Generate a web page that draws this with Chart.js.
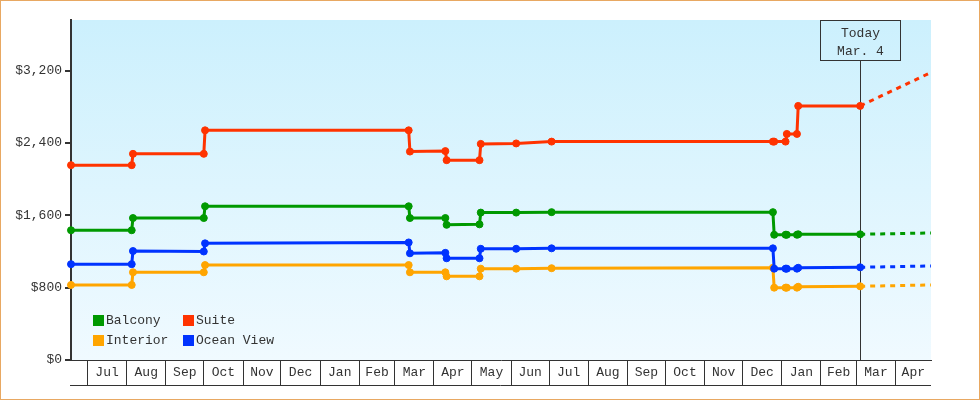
<!DOCTYPE html>
<html><head><meta charset="utf-8">
<script src="https://cdn.jsdelivr.net/npm/chart.js@4.4.1/dist/chart.umd.min.js"></script>
<style>
html,body{margin:0;padding:0;background:#fff;}
#wrap{position:relative;width:980px;height:400px;}
#frame{position:absolute;left:0;top:0;width:980px;height:400px;box-sizing:border-box;border:1px solid #e8a862;pointer-events:none;}
canvas{position:absolute;left:0;top:0;}
</style></head><body>
<div id="wrap"><canvas id="c" width="980" height="400"></canvas><div id="frame"></div></div>
<script>
// ---- data ----
const dates = ['2017-06-18','2017-08-05','2017-08-06','2017-10-01','2017-10-02',
  '2018-03-12','2018-03-13','2018-04-10','2018-04-11','2018-05-07','2018-05-08',
  '2018-06-05','2018-07-03','2018-12-25','2018-12-26','2019-01-04','2019-01-05',
  '2019-01-13','2019-01-14','2019-03-04'];
const balcony   = [1435,1435,1570,1570,1700,1700,1570,1570,1495,1500,1630,1630,1635,1635,1385,1385,1385,1385,1390,1390];
const suite     = [2155,2155,2280,2280,2540,2540,2305,2310,2210,2210,2390,2395,2415,2415,2415,2415,2500,2500,2810,2810];
const interior  = [830,830,970,970,1050,1050,970,970,925,925,1010,1010,1015,1020,800,800,800,800,810,815];
const oceanView = [1060,1060,1205,1200,1290,1300,1180,1185,1125,1125,1230,1230,1235,1235,1010,1010,1010,1010,1020,1025];

const projDates = ['2019-03-04','2019-04-29'];
const balconyProj   = [1390,1405];
const suiteProj     = [2810,3180];
const interiorProj  = [815,830];
const oceanViewProj = [1025,1040];

const monthStarts = ['2017-07-01','2017-08-01','2017-09-01','2017-10-01','2017-11-01','2017-12-01',
  '2018-01-01','2018-02-01','2018-03-01','2018-04-01','2018-05-01','2018-06-01','2018-07-01',
  '2018-08-01','2018-09-01','2018-10-01','2018-11-01','2018-12-01','2019-01-01','2019-02-01',
  '2019-03-01','2019-04-01'];
const monthLabels = ['Jul','Aug','Sep','Oct','Nov','Dec','Jan','Feb','Mar','Apr','May','Jun','Jul',
  'Aug','Sep','Oct','Nov','Dec','Jan','Feb','Mar','Apr'];

const yTicks = [0,800,1600,2400,3200];
const yMax = 3760;
const todayDate = '2019-03-04';
const todayText = ['Today','Mar. 4'];

const seriesNames  = ['Balcony','Suite','Interior','Ocean View'];
const seriesColors = ['#009900','#ff3300','#ffa500','#0033ff'];

// ---- helpers ----
const day = s => Date.UTC(+s.slice(0,4), +s.slice(5,7)-1, +s.slice(8,10)) / 864e5;
const FONT = 'Liberation Mono';
const TXT = '#333';
const xMin = day(dates[0]);
const xMax = day(projDates[projDates.length-1]);

const boundaryVals = monthStarts.map(day);
const labelMap = new Map();
const xTickVals = [];
boundaryVals.forEach((b,i) => {
  const next = i + 1 < boundaryVals.length ? boundaryVals[i+1] : xMax;
  const mid = (b + next) / 2;
  xTickVals.push(b, mid);
  labelMap.set(mid, monthLabels[i]);
});
const boundarySet = new Set(boundaryVals);

const allSeries = [balcony, suite, interior, oceanView];
const allProj = [balconyProj, suiteProj, interiorProj, oceanViewProj];
const drawOrder = [1, 3, 2, 0]; // lower = on top

const datasets = [];
allSeries.forEach((arr, k) => {
  datasets.push({
    label: seriesNames[k],
    data: dates.map((s,i) => ({x: day(s), y: arr[i]})),
    borderColor: seriesColors[k], backgroundColor: seriesColors[k],
    borderWidth: 3, pointRadius: 3.5, pointBorderWidth: 1,
    pointBackgroundColor: seriesColors[k], pointBorderColor: seriesColors[k],
    fill: false, tension: 0, clip: false, order: drawOrder[k]
  });
  datasets.push({
    label: seriesNames[k] + ' projection',
    data: projDates.map((s,i) => ({x: day(s), y: allProj[k][i]})),
    borderColor: seriesColors[k], borderWidth: 3, borderDash: [5,5],
    pointRadius: 0, fill: false, tension: 0, clip: false, order: 10
  });
});

const decor = {
  id: 'decor',
  beforeDraw(chart) {
    const {ctx, chartArea: a} = chart;
    const g = ctx.createLinearGradient(0, a.top, 0, a.bottom);
    g.addColorStop(0, '#ccf0fd');
    g.addColorStop(1, '#f0faff');
    ctx.save();
    ctx.fillStyle = g;
    ctx.fillRect(a.left, a.top, a.right - a.left, a.bottom - a.top);
    ctx.restore();
  },
  beforeDatasetsDraw(chart) {
    const {ctx, chartArea: a, scales} = chart;
    ctx.save();
    ctx.strokeStyle = '#333';
    ctx.lineWidth = 1;
    // bottom line of month band
    ctx.beginPath();
    ctx.moveTo(a.left - 1, a.bottom + 25.5);
    ctx.lineTo(a.right, a.bottom + 25.5);
    ctx.stroke();
    // today marker
    const tx = Math.floor(scales.x.getPixelForValue(day(todayDate))) + 0.5;
    ctx.beginPath();
    ctx.moveTo(tx, a.top + 40);
    ctx.lineTo(tx, a.bottom);
    ctx.stroke();
    ctx.strokeRect(tx - 40, a.top + 0.5, 80, 40);
    ctx.fillStyle = TXT;
    ctx.font = '13px "' + FONT + '"';
    ctx.textAlign = 'center';
    ctx.textBaseline = 'alphabetic';
    ctx.fillText(todayText[0], tx, a.top + 17);
    ctx.fillText(todayText[1], tx, a.top + 35);
    ctx.restore();
  },
  afterDatasetsDraw(chart) {
    const {ctx, chartArea: a} = chart;
    const order = [[0,0,0],[1,1,0],[2,0,1],[3,1,1]];
    ctx.save();
    ctx.font = '13px "' + FONT + '"';
    ctx.textBaseline = 'middle';
    ctx.textAlign = 'left';
    order.forEach(([k,col,row]) => {
      const x = a.left + 22 + col * 90;
      const y = a.bottom - 45 + row * 20;
      ctx.fillStyle = seriesColors[k];
      ctx.fillRect(x, y, 11, 11);
      ctx.fillStyle = TXT;
      ctx.fillText(seriesNames[k], x + 13, y + 6);
    });
    ctx.restore();
  }
};

new Chart(document.getElementById('c'), {
  type: 'line',
  data: {datasets},
  plugins: [decor],
  options: {
    responsive: false, animation: false, devicePixelRatio: 1,
    layout: {padding: {left: 0, top: 20, right: 49, bottom: 0}},
    plugins: {legend: {display: false}, tooltip: {enabled: false}},
    scales: {
      x: {
        type: 'linear', min: xMin, max: xMax,
        afterFit: s => { s.height = 40; },
        afterBuildTicks: s => { s.ticks = xTickVals.map(v => ({value: v})); },
        grid: {drawOnChartArea: false, drawTicks: true, tickLength: 25, lineWidth: 1,
          color: c => (c.tick && boundarySet.has(c.tick.value)) ? '#333' : 'rgba(0,0,0,0)'},
        border: {display: true, color: '#333', width: 1},
        ticks: {autoSkip: false, maxRotation: 0, minRotation: 0, padding: -20, color: TXT,
          font: {family: FONT, size: 13},
          callback: v => labelMap.has(v) ? labelMap.get(v) : ''}
      },
      y: {
        min: 0, max: yMax,
        afterFit: s => { s.width = 71; },
        afterBuildTicks: s => { s.ticks = yTicks.map(v => ({value: v})); },
        grid: {drawOnChartArea: false, drawTicks: true, tickLength: 6, lineWidth: 2, color: '#333'},
        border: {display: true, color: '#333', width: 2},
        ticks: {padding: 3, color: TXT, font: {family: FONT, size: 13},
          callback: v => '$' + Number(v).toLocaleString('en-US')}
      }
    }
  }
});
</script>
</body></html>
